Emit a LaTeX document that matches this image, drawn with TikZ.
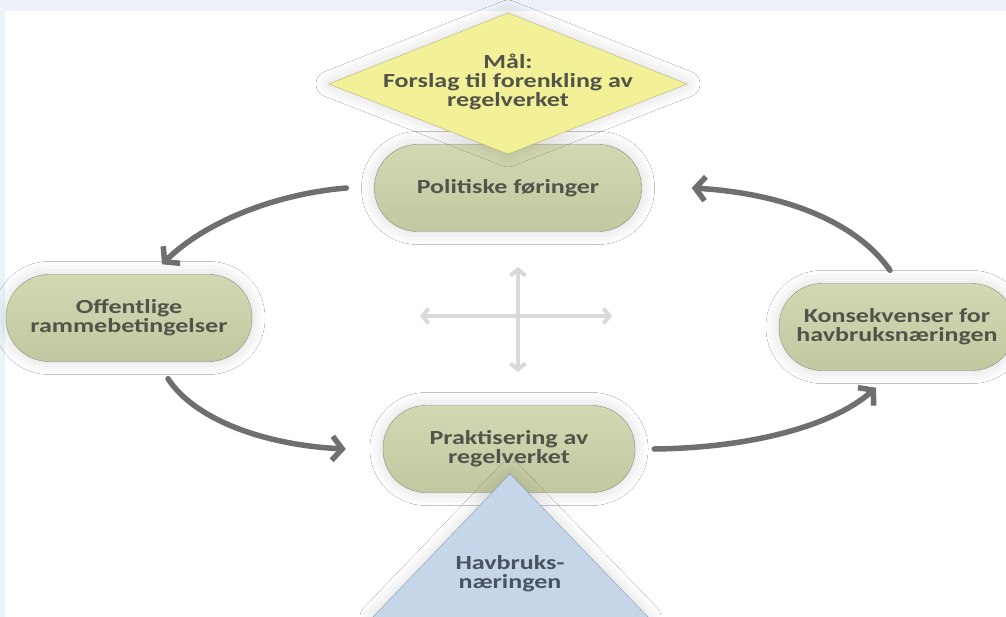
\documentclass[tikz,border=0pt]{standalone}
\usepackage{fontspec}
\setmainfont{Carlito}[FakeStretch=1.3]
\usetikzlibrary{arrows.meta,shadows.blur}

\definecolor{bgblue}{HTML}{EDF2F9}
\definecolor{stagetop}{HTML}{D3D8B2}
\definecolor{stagebot}{HTML}{C1C8A0}
\definecolor{stageline}{HTML}{8F8F80}
\definecolor{textgray}{HTML}{52544A}
\definecolor{goalyellow}{HTML}{F3F197}
\definecolor{goalline}{HTML}{B9B67E}
\definecolor{triblue}{HTML}{C4D6E7}
\definecolor{triline}{HTML}{8FA0B5}
\definecolor{tritext}{HTML}{4A5260}
\definecolor{arrowgray}{HTML}{6F6F6F}
\definecolor{crossgray}{HTML}{D9D9D9}

\newcommand\boxfont{\fontsize{20pt}{19pt}\selectfont\bfseries}

\tikzset{
  glow/.style={blur shadow={shadow xshift=0pt,shadow yshift=0pt,shadow blur radius=13pt,shadow opacity=16}},
  stage/.style={rectangle,rounded corners=43pt,minimum width=252pt,minimum height=87pt,
    draw=stageline,top color=stagetop,bottom color=stagebot,text=textgray,
    font=\boxfont,align=center,glow},
  plain/.style={font=\boxfont,align=center},
  cyclearrow/.style={-{Straight Barb[length=10pt,width=24pt]},line width=5.5pt,draw=arrowgray,line cap=round},
  crossarrow/.style={{Straight Barb[length=6pt,width=15pt]}-{Straight Barb[length=6pt,width=15pt]},line width=4pt,draw=crossgray}
}

\begin{document}
\begin{tikzpicture}[x=1pt,y=-1pt]
\useasboundingbox (0,0) rectangle (1006,617);
\fill[bgblue] (0,0) rectangle (1006,617);
\fill[white] (5,11) rectangle (1006,617);

\node[stage,minimum width=267pt] (pol) at (508,188) {Politiske føringer};
\node[stage,minimum width=246pt] (off) at (129,318) {Offentlige\\rammebetingelser};
\node[stage] (prak) at (509,449) {Praktisering av\\regelverket};
\node[stage,minimum width=236pt] (kons) at (897,327) {Konsekvenser for\\havbruksnæringen};

\filldraw[fill=goalyellow,draw=goalline,glow] (508,13) -- (687,84) -- (508,154) -- (329,84) -- cycle;
\node[plain,text=textgray] (goal) at (508,82) {Mål:\\Forslag til forenkling av\\regelverket};

\fill[triblue,glow] (510,474) -- (648,617) -- (373,617) -- cycle;
\draw[triline] (373,617) -- (510,474) -- (648,617);
\node[plain,text=tritext] (base) at (510,574) {Havbruks-\\næringen};

\draw[cyclearrow] ([xshift=-28pt]pol.west) .. controls (275,194) and (205,222) .. ([xshift=33pt,yshift=10pt]off.north);
\draw[cyclearrow] ([xshift=39pt,yshift=-17pt]off.south) .. controls (195,420) and (265,445) .. ([xshift=-37pt]prak.west);
\draw[cyclearrow] ([xshift=19pt]prak.east) .. controls (745,448) and (830,428) .. ([xshift=-21pt,yshift=-17pt]kons.south);
\draw[cyclearrow] ([xshift=-7pt,yshift=13pt]kons.north) .. controls (855,220) and (780,193) .. ([xshift=50pt]pol.east);

\coordinate (crossN) at (518,267);
\coordinate (crossS) at (518,372);
\coordinate (crossW) at (420,316);
\coordinate (crossE) at (612,316);
\draw[crossarrow] (crossN) -- (crossS);
\draw[crossarrow] (crossW) -- (crossE);
\end{tikzpicture}
\end{document}
